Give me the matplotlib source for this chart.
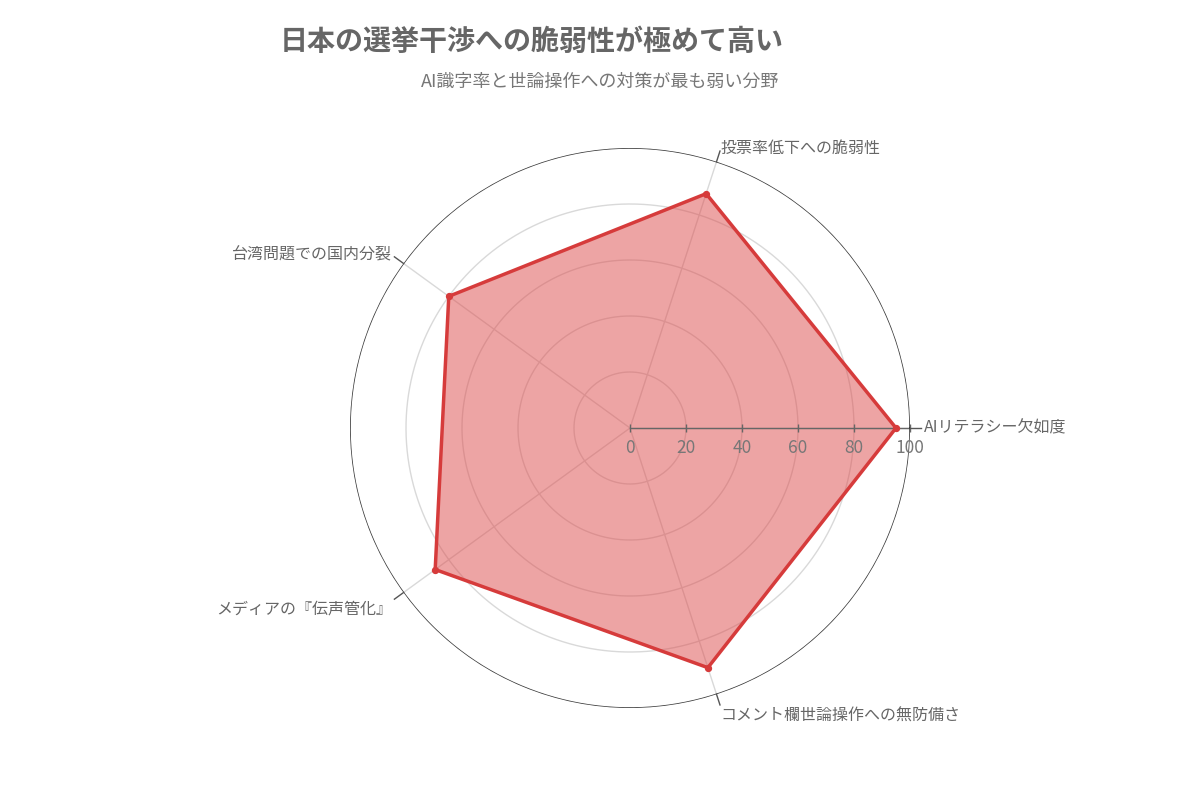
import numpy as np
import matplotlib
matplotlib.use("Agg")
import matplotlib.pyplot as plt

plt.rcParams['font.family'] = ['Noto Sans CJK JP', 'DejaVu Sans']

categories = ["AIリテラシー欠如度", "投票率低下への脆弱性", "台湾問題での国内分裂",
              "メディアの『伝声管化』", "コメント欄世論操作への無防備さ"]
values = [95, 88, 80, 86, 90]
rticks = [0, 20, 40, 60, 80, 100]
title = "日本の選挙干渉への脆弱性が極めて高い"
subtitle = "AI識字率と世論操作への対策が最も弱い分野"

W, H = 1200, 800
fig = plt.figure(figsize=(12, 8), dpi=100)
cx, cy, R = 630, 428, 280
ax = fig.add_axes([(cx - R) / W, (H - cy - R) / H, 2 * R / W, 2 * R / H], projection='polar')
ax.set_ylim(0, 100)
ax.set_theta_offset(0)
ax.set_theta_direction(1)
ax.grid(False)
ax.set_xticks([])
ax.set_yticks([])
ax.spines['polar'].set_visible(False)
ax.patch.set_alpha(0)

n = len(categories)
angles = np.arange(n) * 2 * np.pi / n
tt = np.linspace(0, 2 * np.pi, 400)

# grid circles
for r in rticks[1:-1]:
    ax.plot(tt, np.full_like(tt, r), color='#d9d9d9', lw=1, zorder=1)
ax.plot(tt, np.full_like(tt, 100), color='#3a3a3a', lw=1.1, zorder=4)

# spokes
for a in angles:
    ax.plot([a, a], [0, 100], color='#d9d9d9', lw=1, zorder=1)
    ax.plot([a, a], [100, 104], color='#555555', lw=1, zorder=4, clip_on=False)

# data
th = np.concatenate([angles, angles[:1]])
vv = np.concatenate([values, values[:1]])
ax.fill(th, vv, color='#dd4b4b', alpha=0.5, zorder=2, lw=0)
ax.plot(th, vv, color='#d63b3b', lw=2.5, zorder=5, solid_joinstyle='miter')
ax.scatter(angles, values, color='#d63b3b', s=18, zorder=6)

# radial axis
ax.plot([0, 0], [0, 100], color='#666666', lw=1, zorder=3)
for r in rticks:
    ax.plot([0], [r], marker='|', markersize=6, color='#666666', zorder=3, clip_on=False)
    ax.annotate(str(r), xy=(0, r), xytext=(0, -8), textcoords='offset points',
                ha='center', va='top', fontsize=12.5, color='#777777', zorder=7)

# category labels
align = [('left', 'center', 0), ('left', 'bottom', -6), ('right', 'center', 0),
         ('right', 'top', 0), ('left', 'top', 0)]
for a, lab, (ha, va, dy) in zip(angles, categories, align):
    ax.annotate(lab, xy=(a, 105), xytext=(0, dy), textcoords='offset points',
                ha=ha, va=va, fontsize=11.5, color='#666666', zorder=7,
                annotation_clip=False)

fig.text(280 / W, 1 - 42 / H, title, ha='left', va='center', fontsize=20.2,
         fontweight='bold', color='#666666')
fig.text(779 / W, 1 - 82 / H, subtitle, ha='right', va='center', fontsize=13,
         color='#777777')

fig.savefig('out.png', dpi=100)
